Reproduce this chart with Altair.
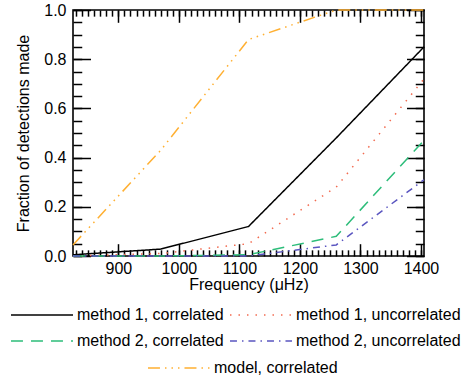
import altair as alt
import pandas as pd

# ---- data ----
freq = [825, 970, 1115, 1260, 1405]
m1_corr = [0.005, 0.028, 0.12, 0.48, 0.85]
m1_unc = [0.0, 0.01, 0.05, 0.28, 0.72]
m2_corr = [0.0, 0.0, 0.005, 0.08, 0.47]
m2_unc = [0.0, 0.0, 0.0, 0.045, 0.31]
model_corr = [0.045, 0.43, 0.88, 1.0, 1.0]

method_names = ["method 1, correlated", "method 1, uncorrelated",
                "method 2, correlated", "method 2, uncorrelated"]
model_names = ["model, correlated"]
method_colors = ["#000000", "#f26a4f", "#2dbd7a", "#5a55c0"]
model_colors = ["#ffb032"]
method_dash = [[1, 0], [1.5, 7], [12, 8], [7, 5, 1.5, 5]]
model_dash = [[12, 5, 1.5, 5, 1.5, 5, 1.5, 5]]

x_major = [900, 1000, 1100, 1200, 1300, 1400]
x_minor = list(range(830, 1405, 10))
y_major = [0.0, 0.2, 0.4, 0.6, 0.8, 1.0]
y_minor = [i * 0.05 for i in range(21)]

XDOM = [825, 1405]
YDOM = [0, 1]

rows = []
for name, vals in zip(method_names, [m1_corr, m1_unc, m2_corr, m2_unc]):
    for f, v in zip(freq, vals):
        rows.append({"freq": f, "frac": v, "series": name})
methods_df = pd.DataFrame(rows)
model_df = pd.DataFrame({"freq": freq, "frac": model_corr,
                         "series": model_names * len(freq)})

W, H = 351, 246
XT, YT = 12.3, 17.5   # major tick lengths
FS = 16


def xs(axis):
    return alt.X("freq:Q", scale=alt.Scale(domain=XDOM, nice=False, zero=False),
                 axis=axis)


def ys(axis):
    return alt.Y("frac:Q", scale=alt.Scale(domain=YDOM, nice=False, zero=False),
                 axis=axis)


leg_common = dict(title=None, orient="none", symbolType="M-5,0H5",
                  symbolSize=154, symbolStrokeWidth=1.5, padding=0,
                  labelFont="Liberation Sans", labelFontSize=FS,
                  labelColor="black", labelLimit=300, labelOffset=27,
                  direction="horizontal", rowPadding=10)

m_leg = dict(columns=2, columnPadding=2, legendX=-39, legendY=297, **leg_common)
mod_leg = dict(legendX=98, legendY=350, **leg_common)

methods = alt.Chart(methods_df).mark_line(strokeWidth=1.5).encode(
    x=xs(alt.Axis(values=x_major, orient="bottom", offset=-XT, tickSize=XT,
                  domain=False, grid=False, labelPadding=4, format="d",
                  title="Frequency (\u03bcHz)", titlePadding=0)),
    y=ys(alt.Axis(values=y_major, orient="left", offset=-YT, tickSize=YT,
                  domain=False, grid=False, format=".1f", labelPadding=7,
                  title="Fraction of detections made", titlePadding=12)),
    color=alt.Color("series:N",
                    scale=alt.Scale(domain=method_names, range=method_colors),
                    legend=alt.Legend(**m_leg)),
    strokeDash=alt.StrokeDash("series:N",
                              scale=alt.Scale(domain=method_names, range=method_dash),
                              legend=alt.Legend(**m_leg)),
)

model = alt.Chart(model_df).mark_line(strokeWidth=1.5).encode(
    x=xs(alt.Axis(values=x_major, orient="top", offset=-XT, tickSize=XT,
                  domain=False, grid=False, labels=False, title=None)),
    y=ys(alt.Axis(values=y_major, orient="right", offset=-YT, tickSize=YT,
                  domain=False, grid=False, labels=False, title=None)),
    color=alt.Color("series:N",
                    scale=alt.Scale(domain=model_names, range=model_colors),
                    legend=alt.Legend(**mod_leg)),
    strokeDash=alt.StrokeDash("series:N",
                              scale=alt.Scale(domain=model_names, range=model_dash),
                              legend=alt.Legend(**mod_leg)),
)

minor_bl = alt.Chart(methods_df).mark_point(opacity=0).encode(
    x=xs(alt.Axis(values=x_minor, orient="bottom", offset=-XT / 2, tickSize=XT / 2,
                  domain=False, grid=False, labels=False, title=None)),
    y=ys(alt.Axis(values=y_minor, orient="left", offset=-YT / 2, tickSize=YT / 2,
                  domain=False, grid=False, labels=False, title=None)),
)

minor_tr = alt.Chart(methods_df).mark_point(opacity=0).encode(
    x=xs(alt.Axis(values=x_minor, orient="top", offset=-XT / 2, tickSize=XT / 2,
                  domain=False, grid=False, labels=False, title=None)),
    y=ys(alt.Axis(values=y_minor, orient="right", offset=-YT / 2, tickSize=YT / 2,
                  domain=False, grid=False, labels=False, title=None)),
)

chart = alt.layer(methods, model, minor_bl, minor_tr).resolve_scale(
    x="independent", y="independent", color="independent",
    strokeDash="independent"
).resolve_axis(x="independent", y="independent").properties(
    width=W, height=H,
    autosize=alt.AutoSizeParams(type="none"),
    padding={"left": 73, "top": 10, "right": 37, "bottom": 127},
).configure_view(
    stroke="black", strokeWidth=1.6
).configure_axis(
    tickColor="black", tickWidth=1.5, labelColor="black", titleColor="black",
    labelFont="Liberation Sans", titleFont="Liberation Sans",
    labelFontSize=FS, titleFontSize=FS, titleFontWeight="normal",
    labelFlush=False, labelOverlap=False
)

chart.save("out.html", embed_options={"renderer": "svg", "actions": False})
